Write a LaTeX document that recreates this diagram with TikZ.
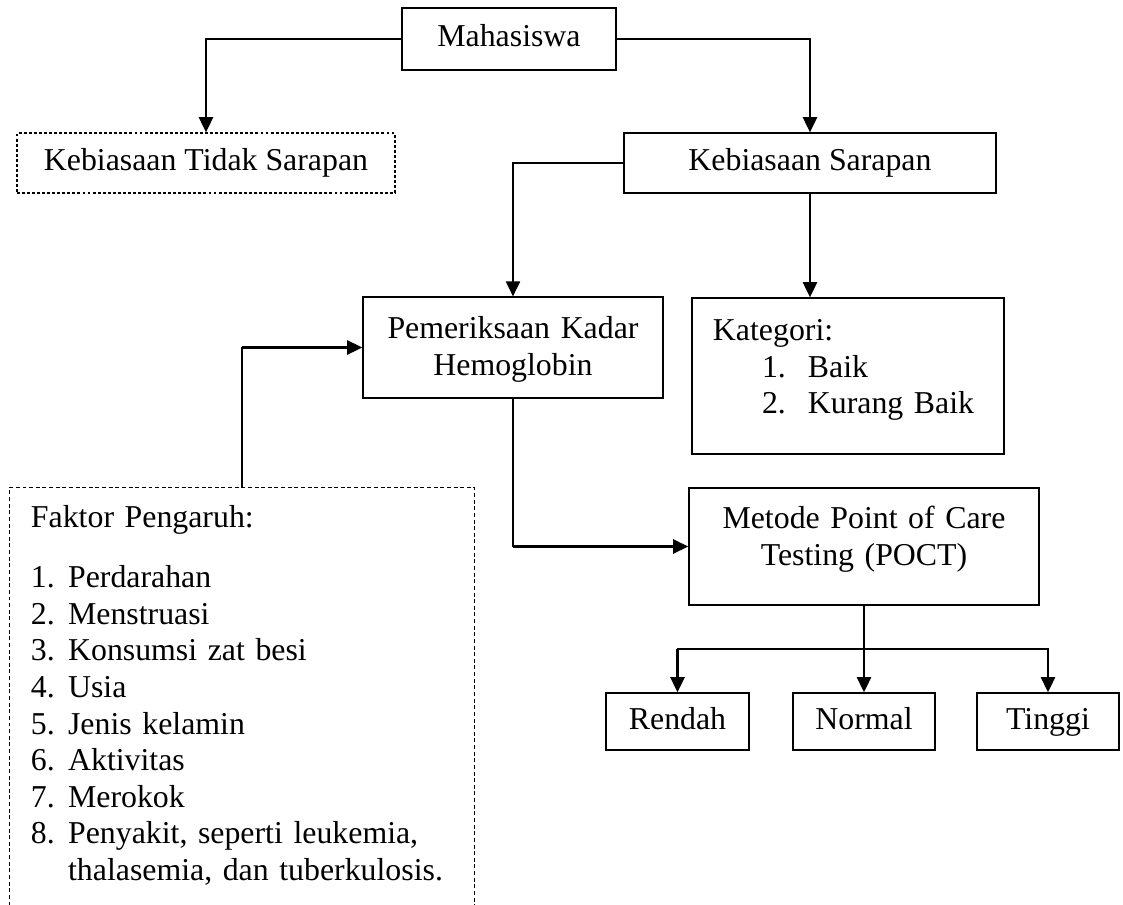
\documentclass[tikz,border=0pt]{standalone}
\usepackage{fontspec}
\setmainfont{Liberation Serif}
\usetikzlibrary{arrows.meta}

\begin{document}
\begin{tikzpicture}[x=0.377pt,y=-0.377pt,>={Triangle[length=5.7pt,width=5.3pt]},
                    font=\fontsize{12}{13.8}\selectfont]
                  \tikzstyle{box}=[draw,line width=0.5pt,inner sep=0pt]
                  \tikzstyle{onebox}=[box,text height=8.6pt,text depth=2.6pt]
                  \tikzstyle{dashbox}=[onebox,dash pattern=on 1.1pt off 0.8pt]
                  \tikzstyle{conn}=[line width=0.45pt,line cap=rect]
                  \tikzstyle{arr}=[->,line width=0.8pt]

                  \useasboundingbox (0,0) rectangle (1123,905);

                  \node[onebox,minimum width=80.7pt,minimum height=23.4pt]   (maha)    at (509,39)    {Mahasiswa};
                  \node[dashbox,minimum width=142.5pt,minimum height=22.6pt] (tidak)   at (206,163)   {Kebiasaan Tidak Sarapan};
                  \node[onebox,minimum width=140.2pt,minimum height=22.6pt]  (sarapan) at (810,163)   {Kebiasaan Sarapan};
                  \node[box,text width=113.1pt,align=center,text height=15.6pt,text depth=22.4pt] (hb) at (513,347.5)
                        {Pemeriksaan Kadar\\Hemoglobin};
                  \node[box,text width=101.8pt,inner xsep=7.9pt,align=left,text height=16pt,text depth=42.8pt] (kategori) at (848,376)
                        {Kategori:\\\hspace*{18.5pt}\makebox[17.3pt][l]{1.}Baik\\\hspace*{18.5pt}\makebox[17.3pt][l]{2.}Kurang Baik};
                  \node[inner xsep=7.9pt,inner ysep=0pt,text width=159.1pt,align=left,text height=14.9pt,text depth=142.3pt] (faktor) at (242,696.5)
                        {Faktor Pengaruh:\\[8.9pt]
                         \makebox[14pt][l]{1.}Perdarahan\\
                         \makebox[14pt][l]{2.}Menstruasi\\
                         \makebox[14pt][l]{3.}Konsumsi zat besi\\
                         \makebox[14pt][l]{4.}Usia\\
                         \makebox[14pt][l]{5.}Jenis kelamin\\
                         \makebox[14pt][l]{6.}Aktivitas\\
                         \makebox[14pt][l]{7.}Merokok\\
                         \makebox[14pt][l]{8.}Penyakit, seperti leukemia,\\
                         \hspace*{14pt}thalasemia, dan tuberkulosis.};
                  \node[box,text width=132pt,align=center,text height=15.3pt,text depth=28.8pt] (metode) at (864,546.5)
                        {Metode Point of Care\\Testing (POCT)};
                  \node[onebox,minimum width=53.9pt,minimum height=21.5pt]   (rendah)  at (677.5,721.5) {Rendah};
                  \node[onebox,minimum width=53.5pt,minimum height=21.5pt]   (normal)  at (864,721.5)   {Normal};
                  \node[onebox,minimum width=53.5pt,minimum height=21.5pt]   (tinggi)  at (1048,721.5)  {Tinggi};

                  \draw[line width=0.5pt,dash pattern=on 1.5pt off 1pt]
                        (faktor.south west) -- (faktor.north west) -- (faktor.north east) -- (faktor.south east);

                  \coordinate (mL) at (tidak.north |- maha.west);
                  \coordinate (mR) at (sarapan.north |- maha.east);
                  \coordinate (sL) at (hb.north |- sarapan.west);
                  \coordinate (fU) at (faktor.north |- hb.west);
                  \coordinate (hD) at (hb.south |- metode.west);
                  \coordinate (bar) at (864,649);
                  \coordinate (bL) at (rendah.north |- bar);
                  \coordinate (bR) at (tinggi.north |- bar);

                  \draw[conn] (maha.west) -- (mL);
                  \draw[conn] (maha.east) -- (mR);
                  \draw[conn] (sarapan.west) -- (sL);
                  \draw[conn] (faktor.north) -- (fU);
                  \draw[conn] (hb.south) -- (hD);
                  \draw[conn] (bL) -- (bR);

                  \draw[arr] (mL) -- (tidak.north);
                  \draw[arr] (mR) -- (sarapan.north);
                  \draw[arr] (sL) -- (hb.north);
                  \draw[arr] (sarapan.south) -- (sarapan.south |- kategori.north);
                  \draw[arr] (fU) -- (hb.west);
                  \draw[arr] (hD) -- (metode.west);
                  \draw[arr] (metode.south) -- (normal.north);
                  \draw[arr] (bL) -- (rendah.north);
                  \draw[arr] (bR) -- (tinggi.north);
\end{tikzpicture}
\end{document}
